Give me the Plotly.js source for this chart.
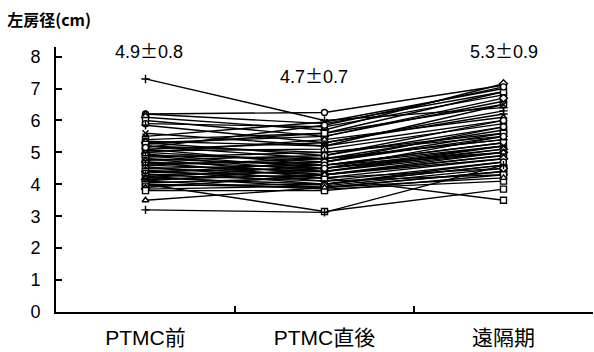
<!DOCTYPE html>
<html><head><meta charset="utf-8">
<script src="https://cdn.plot.ly/plotly-3.0.1.min.js"></script>
<style>html,body{margin:0;padding:0;background:#fff}</style>
</head><body><div id="chart" style="width:594px;height:352px"></div>
<script>
const categories = ["PTMC前", "PTMC直後", "遠隔期"];
const pre  = [7.3,6.2,6.2,6.1,6.0,5.9,5.85,5.5,5.4,5.35,5.3,5.3,5.2,5.2,5.1,5.1,5.05,5.0,5.0,4.95,4.9,4.9,4.85,4.8,4.8,4.75,4.7,4.7,4.65,4.6,4.6,4.55,4.5,4.5,4.45,4.4,4.4,4.35,4.3,4.3,4.25,4.2,4.2,4.15,4.1,4.1,4.05,4.0,4.0,3.95,3.9,3.85,3.8,3.5,3.2,5.6,5.25,5.15];
const post = [6.0,6.25,5.9,5.7,5.5,5.8,5.3,5.95,5.6,5.2,4.9,5.5,5.0,4.8,5.3,4.6,5.1,4.7,5.4,4.5,4.8,4.4,5.0,4.6,4.3,4.9,4.5,4.2,4.7,4.4,4.8,4.1,4.6,4.3,4.0,4.5,4.2,4.7,4.1,4.4,3.9,4.6,4.0,4.3,3.85,4.5,4.2,3.15,3.9,4.0,4.3,3.95,3.8,3.9,3.12,5.2,5.6,5.85];
const late = [6.4,7.1,6.9,7.15,6.6,6.8,6.2,7.0,6.5,6.0,5.8,6.7,5.6,5.4,6.3,5.2,5.9,5.5,6.1,5.0,5.7,5.1,5.5,5.3,4.9,6.0,5.2,4.8,5.6,5.0,5.4,4.7,5.3,4.9,4.6,5.1,4.5,5.8,4.3,5.2,4.4,5.0,4.6,4.8,4.1,5.5,3.5,3.85,4.4,4.7,5.0,4.5,4.3,4.2,4.6,6.5,6.9,7.05];
const statMean = ["4.9", "4.7", "5.3"];
const statSD = ["0.8", "0.7", "0.9"];
const statY = [8.2, 7.43, 8.2];

const symbolCycle = ["square","circle","triangle-up","diamond","square","circle","cross-thin","x-thin"];
const traces = pre.map((v, i) => {
  let sym = symbolCycle[i % symbolCycle.length];
  if (i === 0 || i === 54) sym = "cross-thin";
  if (i === 53) sym = "triangle-up";
  if (i === 46 || i === 47) sym = "square";
  return {
    type: "scatter", mode: "lines+markers",
    x: categories, y: [pre[i], post[i], late[i]],
    line: {color: "black", width: 1.4},
    marker: {symbol: sym, size: 6, color: "white", line: {color: "black", width: 1.4}},
    showlegend: false, hoverinfo: "y"
  };
});

const font = "Liberation Sans, Arial, Noto Sans CJK JP, sans-serif";
const layout = {
  width: 594, height: 352,
  margin: {l: 56, r: 1, t: 47, b: 40},
  paper_bgcolor: "white", plot_bgcolor: "white",
  font: {family: font, color: "black"},
  title: {text: "左房径(cm)", x: 0.012, xanchor: "left", xref: "container", y: 0.943, yanchor: "middle", yref: "container",
          font: {family: "Noto Sans CJK JP, sans-serif", size: 16, color: "black", weight: "bold"}},
  xaxis: {type: "category", range: [-0.5, 2.5], tickson: "boundaries", ticks: "inside", ticklen: 6, tickwidth: 2,
          tickcolor: "black", showline: true, linecolor: "black", linewidth: 2, showgrid: false, zeroline: false,
          tickfont: {size: 21, family: "Liberation Sans, Noto Sans CJK JP, sans-serif"}, ticklabelstandoff: 6, fixedrange: true},
  yaxis: {range: [0, 8.3], tickvals: [0,1,2,3,4,5,6,7,8], ticks: "inside", ticklen: 6, tickwidth: 2, tickcolor: "black",
          showline: true, linecolor: "black", linewidth: 2, showgrid: false, zeroline: false,
          tickfont: {size: 18}, ticklabelstandoff: 10, fixedrange: true},
  annotations: statMean.map((m, i) => ({
    text: m + '<span style="font-family:Noto Sans CJK JP">±</span>' + statSD[i],
    x: [0.02, 0.94, 2.0][i], y: statY[i], xref: "x", yref: "y", showarrow: false,
    font: {size: 18, color: "black"}, xanchor: "center", yanchor: "middle"
  }))
};
Plotly.newPlot("chart", traces, layout, {displayModeBar: false, staticPlot: true});
</script></body></html>
